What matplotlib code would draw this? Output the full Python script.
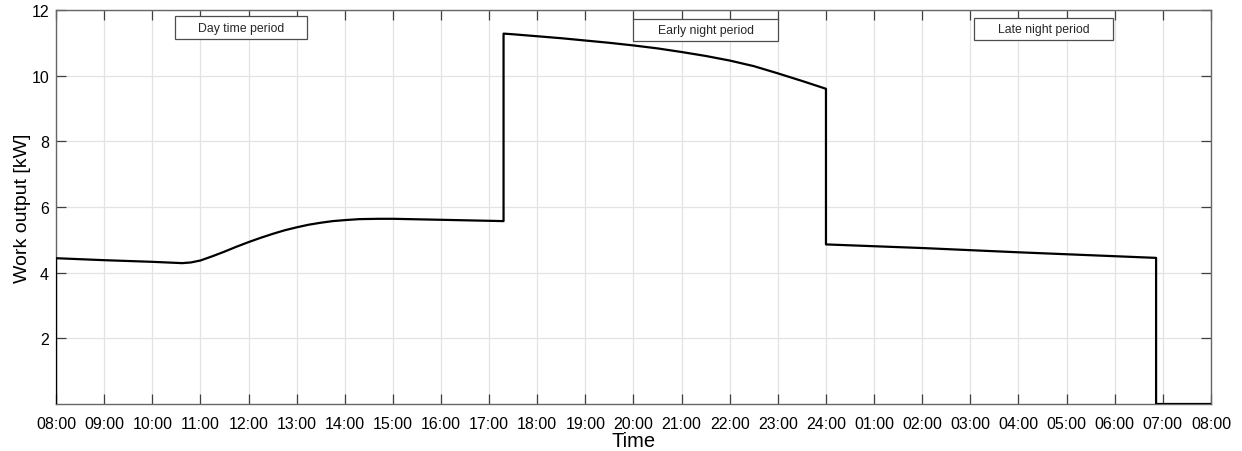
import matplotlib
matplotlib.use('Agg')
import matplotlib.pyplot as plt
from matplotlib.patches import Rectangle

plt.rcParams['font.family'] = ['Liberation Sans', 'DejaVu Sans']

# hours after 08:00 and work output [kW]
hours = [0.0, 0.0, 1.0, 2.0, 2.62, 2.8, 3.0, 3.25, 3.5, 3.75, 4.0, 4.25, 4.5, 4.75, 5.0,
         5.25, 5.5, 5.75, 6.0, 6.3, 6.7, 7.0, 8.0, 9.3,
         9.3, 9.5, 10.0, 10.5, 11.0, 11.5, 12.0, 12.5, 13.0, 13.5, 14.0, 14.5, 15.0, 15.5, 16.0,
         16.0, 18.0, 20.0, 22.86, 22.86, 24.0]
power = [0.0, 4.44, 4.38, 4.33, 4.29, 4.31, 4.37, 4.50, 4.64, 4.79, 4.93, 5.06, 5.18, 5.29, 5.38,
         5.46, 5.52, 5.57, 5.60, 5.63, 5.64, 5.64, 5.61, 5.57,
         11.28, 11.26, 11.20, 11.14, 11.07, 11.00, 10.92, 10.83, 10.72, 10.60, 10.46, 10.29, 10.07, 9.84, 9.60,
         4.86, 4.75, 4.62, 4.45, 0.0, 0.0]

tick_labels = ['08:00', '09:00', '10:00', '11:00', '12:00', '13:00', '14:00', '15:00',
               '16:00', '17:00', '18:00', '19:00', '20:00', '21:00', '22:00', '23:00',
               '24:00', '01:00', '02:00', '03:00', '04:00', '05:00', '06:00', '07:00', '08:00']
periods = ['Day time period', 'Early night period', 'Late night period']

fig = plt.figure(figsize=(12.42, 4.52), dpi=100)
ax = fig.add_axes([0.0451, 0.104, 0.9299, 0.8717])

ax.plot(hours, power, color='black', lw=1.6, zorder=3)

ax.set_xlim(0, 24)
ax.set_ylim(0, 12)
ax.set_xticks(range(len(tick_labels)))
ax.set_xticklabels(tick_labels)
ax.set_yticks([2, 4, 6, 8, 10, 12])
ax.grid(True, color='#e3e3e3', lw=0.9)
ax.tick_params(direction='in', length=7, width=0.9, color='0.25',
               top=True, right=True, labelsize=11.5)
ax.tick_params(axis='x', pad=9)
ax.tick_params(axis='y', pad=5)
for s in ax.spines.values():
    s.set_color('0.4')
    s.set_linewidth(1.0)

ax.set_xlabel('Time', fontsize=14.5, labelpad=0)
ax.set_ylabel('Work output [kW]', fontsize=14, labelpad=0)

# period annotation boxes (axes fraction)
boxes = [(0.103, 0.926, 0.114, 0.059),
         (0.500, 0.921, 0.125, 0.056),
         (0.795, 0.924, 0.120, 0.056)]
for name, (x0, y0, w, h) in zip(periods, boxes):
    ax.add_patch(Rectangle((x0, y0), w, h, transform=ax.transAxes, facecolor='white',
                           edgecolor='0.3', lw=0.9, zorder=4))
    ax.text(x0 + w / 2, y0 + h / 2, name, transform=ax.transAxes, ha='center', va='center',
            fontsize=8.8, color='0.15', zorder=5)

plt.savefig('out.png', dpi=100)
